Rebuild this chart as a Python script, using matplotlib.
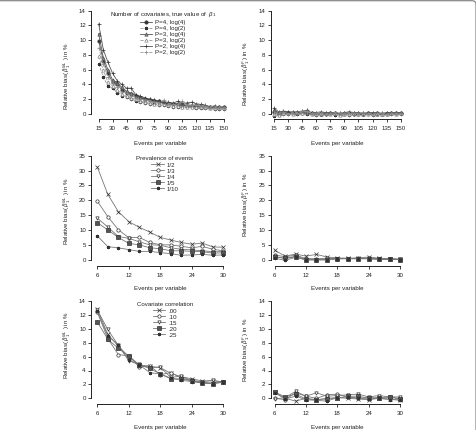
import matplotlib
matplotlib.use("Agg")
import matplotlib.pyplot as plt
from matplotlib.lines import Line2D
from matplotlib.patches import FancyBboxPatch

plt.rcParams['font.family'] = ['Liberation Sans', 'DejaVu Sans']
plt.rcParams['mathtext.fontset'] = 'custom'
plt.rcParams['mathtext.rm'] = 'Liberation Sans'
plt.rcParams['mathtext.it'] = 'Liberation Sans:italic'

# ---------------- data ----------------
epv1 = [15, 20, 25, 30, 35, 40, 45, 50, 55, 60, 65, 70, 75, 80, 85, 90, 95, 100,
        105, 110, 115, 120, 125, 130, 135, 140, 145, 150]
labels1 = ["P=4, log(4)", "P=4, log(2)", "P=3, log(4)", "P=3, log(2)", "P=2, log(4)", "P=2, log(2)"]
ml1_p4l4 = [9.9, 7.2, 5.5, 4.3, 4.0, 3.3, 2.9, 2.7, 2.5, 2.2, 2.0, 1.9, 1.8, 1.7, 1.5, 1.4, 1.3, 1.3, 1.2, 1.1, 1.1, 1.0, 1.0, 1.0, 0.9, 0.9, 0.9, 0.9]
ml1_p4l2 = [6.8, 5.0, 3.8, 3.5, 2.9, 2.5, 2.3, 2.0, 1.8, 1.6, 1.5, 1.4, 1.3, 1.2, 1.2, 1.1, 1.0, 1.0, 0.9, 0.9, 0.9, 0.8, 0.8, 0.8, 0.8, 0.7, 0.7, 0.7]
ml1_p3l4 = [10.9, 7.6, 6.0, 4.6, 4.2, 3.6, 3.1, 2.8, 2.6, 2.3, 2.1, 2.0, 1.9, 1.7, 1.6, 1.5, 1.4, 1.4, 1.3, 1.2, 1.2, 1.1, 1.1, 1.0, 1.0, 1.0, 0.9, 0.9]
ml1_p3l2 = [7.8, 5.9, 4.3, 3.8, 3.2, 2.7, 2.4, 2.2, 2.0, 1.8, 1.6, 1.5, 1.4, 1.4, 1.3, 1.2, 1.1, 1.1, 1.0, 1.0, 0.9, 0.9, 0.9, 0.9, 0.8, 0.8, 0.8, 0.8]
ml1_p2l4 = [12.2, 8.7, 7.0, 5.5, 4.5, 4.0, 3.5, 3.5, 2.6, 2.4, 2.2, 2.0, 1.9, 1.8, 1.6, 1.6, 1.5, 1.7, 1.5, 1.5, 1.6, 1.4, 1.3, 1.2, 1.0, 1.1, 0.9, 1.0]
ml1_p2l2 = [9.0, 6.8, 5.0, 4.2, 3.6, 3.0, 2.8, 2.5, 2.2, 2.0, 1.9, 1.8, 1.6, 1.5, 1.9, 1.4, 1.3, 1.3, 1.7, 1.2, 1.2, 1.2, 1.1, 1.1, 1.0, 1.0, 1.0, 0.9]
f1_p4l4 = [0.3, 0.0, 0.1, 0.1, 0.1, 0.1, 0.2, 0.1, 0.1, 0.0, 0.0, 0.0, 0.1, 0.1, 0.0, 0.0, 0.1, 0.0, 0.0, 0.0, 0.1, 0.0, 0.1, 0.0, 0.0, 0.1, 0.1, 0.1]
f1_p4l2 = [-0.3, -0.1, 0.0, 0.0, 0.1, 0.0, 0.1, 0.0, 0.0, -0.1, 0.0, 0.0, 0.0, -0.1, 0.0, 0.1, -0.1, 0.0, 0.0, 0.0, 0.0, -0.1, 0.0, 0.0, 0.1, 0.0, 0.0, 0.0]
f1_p3l4 = [0.5, 0.2, 0.2, 0.3, 0.1, 0.2, 0.3, 0.2, 0.1, 0.1, 0.0, 0.1, 0.1, 0.1, 0.0, 0.1, 0.2, 0.1, 0.1, 0.0, 0.1, 0.1, 0.0, 0.0, 0.1, 0.1, 0.1, 0.2]
f1_p3l2 = [0.0, -0.2, 0.1, 0.2, 0.0, 0.3, 0.2, 0.5, 0.0, 0.0, 0.1, 0.2, 0.0, 0.1, -0.1, 0.0, 0.0, 0.1, 0.0, 0.1, 0.0, 0.0, 0.2, 0.0, 0.0, 0.1, 0.0, 0.1]
f1_p2l4 = [0.8, 0.3, 0.4, 0.3, 0.3, 0.3, 0.4, 0.5, 0.2, 0.2, 0.3, 0.2, 0.2, 0.2, 0.1, 0.2, 0.3, 0.2, 0.2, 0.1, 0.2, 0.2, 0.2, 0.1, 0.2, 0.2, 0.2, 0.2]
f1_p2l2 = [0.2, 0.1, 0.3, 0.0, 0.2, 0.2, 0.4, 0.4, 0.1, 0.1, 0.2, 0.0, 0.1, 0.2, 0.1, 0.1, 0.2, 0.1, 0.1, 0.2, 0.1, 0.0, 0.1, 0.1, 0.0, 0.1, 0.1, 0.1]

epv2 = [6, 8, 10, 12, 14, 16, 18, 20, 22, 24, 26, 28, 30]
labels2 = ["1/2", "1/3", "1/4", "1/5", "1/10"]
ml2_12 = [31.2, 22.0, 16.2, 12.8, 10.9, 9.3, 7.5, 6.6, 5.8, 5.2, 5.6, 4.3, 4.2]
ml2_13 = [19.7, 14.5, 10.1, 7.4, 7.5, 5.8, 5.0, 5.0, 4.5, 4.0, 4.5, 3.5, 3.0]
ml2_14 = [14.0, 11.0, 7.8, 7.2, 6.0, 5.0, 4.9, 4.0, 3.5, 3.3, 3.0, 2.7, 2.7]
ml2_15 = [12.5, 10.0, 7.5, 5.5, 5.0, 4.0, 3.7, 3.0, 3.0, 2.8, 2.7, 2.2, 2.3]
ml2_110 = [8.0, 4.4, 4.0, 3.4, 2.8, 2.8, 2.4, 2.0, 1.5, 1.6, 1.8, 1.5, 1.6]
f2_12 = [3.2, 1.2, 1.9, 1.2, 1.8, 0.9, 0.6, 0.5, 0.6, 0.9, 0.5, 0.4, 0.2]
f2_13 = [1.6, 1.0, 1.5, 0.4, 0.3, 0.5, 0.4, 0.4, 0.5, 0.5, 0.3, 0.2, 0.1]
f2_14 = [1.2, 0.3, 1.2, 0.1, 0.0, 0.3, 0.3, 0.4, 0.4, 0.4, 0.2, 0.2, 0.1]
f2_15 = [0.8, 0.6, 0.9, 0.0, 0.0, 0.0, 0.4, 0.4, 0.4, 0.4, 0.2, 0.2, 0.0]
f2_110 = [0.5, -0.2, 0.8, -0.1, -0.1, -0.1, 0.3, 0.3, 0.3, 0.3, 0.1, 0.1, 0.0]

epv3 = [6, 8, 10, 12, 14, 16, 18, 20, 22, 24, 26, 28, 30]
labels3 = [".00", ".10", ".15", ".20", ".25"]
ml3_00 = [12.8, 9.2, 7.5, 6.0, 4.8, 4.6, 4.4, 3.6, 3.1, 2.8, 2.5, 2.5, 2.4]
ml3_10 = [12.4, 8.6, 6.3, 6.1, 4.5, 4.7, 3.4, 3.7, 2.9, 2.6, 2.3, 2.2, 2.4]
ml3_15 = [12.7, 9.9, 7.6, 5.4, 4.9, 4.4, 4.5, 3.0, 3.2, 2.5, 2.4, 2.6, 2.3]
ml3_20 = [11.0, 8.5, 7.2, 6.1, 4.8, 4.3, 3.5, 2.8, 2.8, 2.5, 2.2, 2.1, 2.4]
ml3_25 = [12.5, 9.0, 7.7, 5.5, 4.8, 3.7, 3.5, 2.9, 2.6, 2.4, 2.2, 2.1, 2.3]
f3_00 = [0.9, 0.0, -0.4, 0.0, -0.2, 0.0, 0.1, 0.0, -0.1, -0.2, 0.0, -0.1, -0.3]
f3_10 = [0.0, -0.2, 0.8, 0.3, 0.0, 0.5, 0.6, 0.2, 0.0, 0.1, 0.0, 0.1, 0.0]
f3_15 = [-0.1, 0.1, 1.0, 0.3, 0.8, 0.3, 0.4, 0.5, 0.6, 0.2, 0.4, 0.2, 0.2]
f3_20 = [0.9, 0.2, 0.6, -0.1, -0.2, -0.1, 0.0, 0.3, 0.3, 0.0, 0.1, 0.2, -0.1]
f3_25 = [0.8, -0.1, 0.3, -0.2, -0.3, -0.4, 0.1, 0.2, 0.0, -0.1, 0.0, -0.2, -0.2]

xt1 = [15, 30, 45, 60, 75, 90, 105, 120, 135, 150]
xt2 = [6, 12, 18, 24, 30]
yt14 = [0, 2, 4, 6, 8, 10, 12, 14]
yt35 = [0, 5, 10, 15, 20, 25, 30, 35]

# ---------------- styles ----------------
DK = '#555555'
LT = '#999999'
MK = '#333333'
sty1 = [
    dict(color=DK, ls='-', marker='o', mfc=MK, mec=MK),
    dict(color=LT, ls='--', marker=(8, 2, 0), mfc=MK, mec=MK),
    dict(color=DK, ls='-', marker='^', mfc='#888888', mec='#555555'),
    dict(color=LT, ls='--', marker='^', mfc='white', mec='#888888'),
    dict(color=DK, ls='-', marker='+', mfc=MK, mec=MK),
    dict(color=LT, ls='--', marker='+', mfc='#888888', mec='#888888'),
]
sty2 = [
    dict(color='#777777', ls='-', marker='x', mfc=MK, mec=MK),
    dict(color='#777777', ls='-', marker='o', mfc='white', mec=MK),
    dict(color='#777777', ls='-', marker='v', mfc='white', mec=MK),
    dict(color='#777777', ls='-', marker='s', mfc='#555555', mec=MK),
    dict(color='#777777', ls='-', marker=(8, 2, 0), mfc=MK, mec=MK),
]

W, H = 477, 430
FS = 4.4
fig = plt.figure(figsize=(W / 100, H / 100), dpi=100)


def place(ax, xmin, xmax, x0, x1, sl, ymin, ymax, y0, y1, sb, rpad=8, tpad=4):
    sx = (x1 - x0) / (xmax - xmin)
    sy = (y0 - y1) / (ymax - ymin)
    axl, axr, axt, axb = sl, x1 + rpad, y1 - tpad, sb
    ax.set_position([axl / W, 1 - axb / H, (axr - axl) / W, (axb - axt) / H])
    ax.set_xlim(xmin - (x0 - axl) / sx, xmax + (axr - x1) / sx)
    ax.set_ylim(ymin - (axb - y0) / sy, ymax + (y1 - axt) / sy)
    for s in ('top', 'right'):
        ax.spines[s].set_visible(False)
    ax.spines['left'].set_bounds(ymin, ymax)
    ax.spines['bottom'].set_bounds(xmin, xmax)
    for s in ('left', 'bottom'):
        ax.spines[s].set_linewidth(0.7)
        ax.spines[s].set_color('#222222')
    ax.tick_params(axis='both', direction='out', length=2.3, width=0.6,
                   labelsize=FS, colors='#222222')
    ax.tick_params(axis='x', pad=2.6)
    ax.tick_params(axis='y', pad=1.4)
    ax.patch.set_visible(False)


def draw(ax, x, series, styles, labels):
    for ys, st, lab in zip(series, styles, labels):
        ax.plot(x, ys, lw=0.6, ms=2.4, mew=0.5, label=lab, **st)


ylab_ml = r"Relative bias( $\hat{\beta}_1^{ML}$ ) in %"
ylab_f = r"Relative bias( $\hat{\beta}_1^{F}$ ) in %"

rows = [
    dict(x=epv1, ml=[ml1_p4l4, ml1_p4l2, ml1_p3l4, ml1_p3l2, ml1_p2l4, ml1_p2l2],
         f=[f1_p4l4, f1_p4l2, f1_p3l4, f1_p3l2, f1_p2l4, f1_p2l2], sty=sty1, lab=labels1,
         xr=(15, 150), xt=xt1, yr=(0, 14), yt=yt14,
         lx0=98.7, lx1=224, rx0=274, rx1=400.7, y0=114, y1=10.7, sb=118.7,
         xlab_y=143, ylab_y=(76, 74),
         title="Number of covariates, true value of  $\\beta_1$", leg=(163, 10.0)),
    dict(x=epv2, ml=[ml2_12, ml2_13, ml2_14, ml2_15, ml2_110],
         f=[f2_12, f2_13, f2_14, f2_15, f2_110], sty=sty2, lab=labels2,
         xr=(6, 30), xt=xt2, yr=(0, 35), yt=yt35,
         lx0=97.3, lx1=223.3, rx0=274.7, rx1=400, y0=259.7, y1=155.7, sb=265.7,
         xlab_y=288.5, ylab_y=(211, 205),
         title="Prevalence of events", leg=(165, 156.5)),
    dict(x=epv3, ml=[ml3_00, ml3_10, ml3_15, ml3_20, ml3_25],
         f=[f3_00, f3_10, f3_15, f3_20, f3_25], sty=sty2, lab=labels3,
         xr=(6, 30), xt=xt2, yr=(0, 14), yt=yt14,
         lx0=97.3, lx1=223.3, rx0=274.7, rx1=400, y0=398.3, y1=301, sb=403.7,
         xlab_y=427.5, ylab_y=(345, 350),
         title="Covariate correlation", leg=(165, 302.5)),
]

for r in rows:
    axL = fig.add_axes([0, 0, 1, 1])
    axR = fig.add_axes([0, 0, 1, 1])
    place(axL, r['xr'][0], r['xr'][1], r['lx0'], r['lx1'], 91.0,
          r['yr'][0], r['yr'][1], r['y0'], r['y1'], r['sb'])
    place(axR, r['xr'][0], r['xr'][1], r['rx0'], r['rx1'], 270.7,
          r['yr'][0], r['yr'][1], r['y0'], r['y1'], r['sb'])
    draw(axL, r['x'], r['ml'], r['sty'], r['lab'])
    draw(axR, r['x'], r['f'], r['sty'], r['lab'])
    for ax in (axL, axR):
        ax.set_xticks(r['xt'])
        ax.set_yticks(r['yt'])
    fig.text(160 / W, 1 - r['xlab_y'] / H, "Events per variable", fontsize=FS,
             ha='center', va='center', color='#222222')
    fig.text(337 / W, 1 - r['xlab_y'] / H, "Events per variable", fontsize=FS,
             ha='center', va='center', color='#222222')
    fig.text(67 / W, 1 - r['ylab_y'][0] / H, ylab_ml, fontsize=FS, rotation=90,
             ha='center', va='center', color='#222222')
    fig.text(246 / W, 1 - r['ylab_y'][1] / H, ylab_f, fontsize=FS, rotation=90,
             ha='center', va='center', color='#222222')
    lg = axL.legend(loc='upper center',
                    bbox_to_anchor=(r['leg'][0] / W, 1 - r['leg'][1] / H),
                    bbox_transform=fig.transFigure, frameon=False, fontsize=FS,
                    title=r['title'], title_fontsize=FS, handlelength=2.0,
                    handletextpad=0.5, labelspacing=0.12, borderpad=0,
                    borderaxespad=0)
    lg.get_title().set_color('#222222')
    for t in lg.get_texts():
        t.set_color('#222222')

# outer frame (top and right edge visible)
frame = FancyBboxPatch((-20, -20), 496, 449.3, boxstyle="round,pad=0,rounding_size=4",
                       transform=None, fc='none', ec='#888888', lw=0.9)
fig.patches.append(frame)

fig.savefig("out.png", dpi=100)
